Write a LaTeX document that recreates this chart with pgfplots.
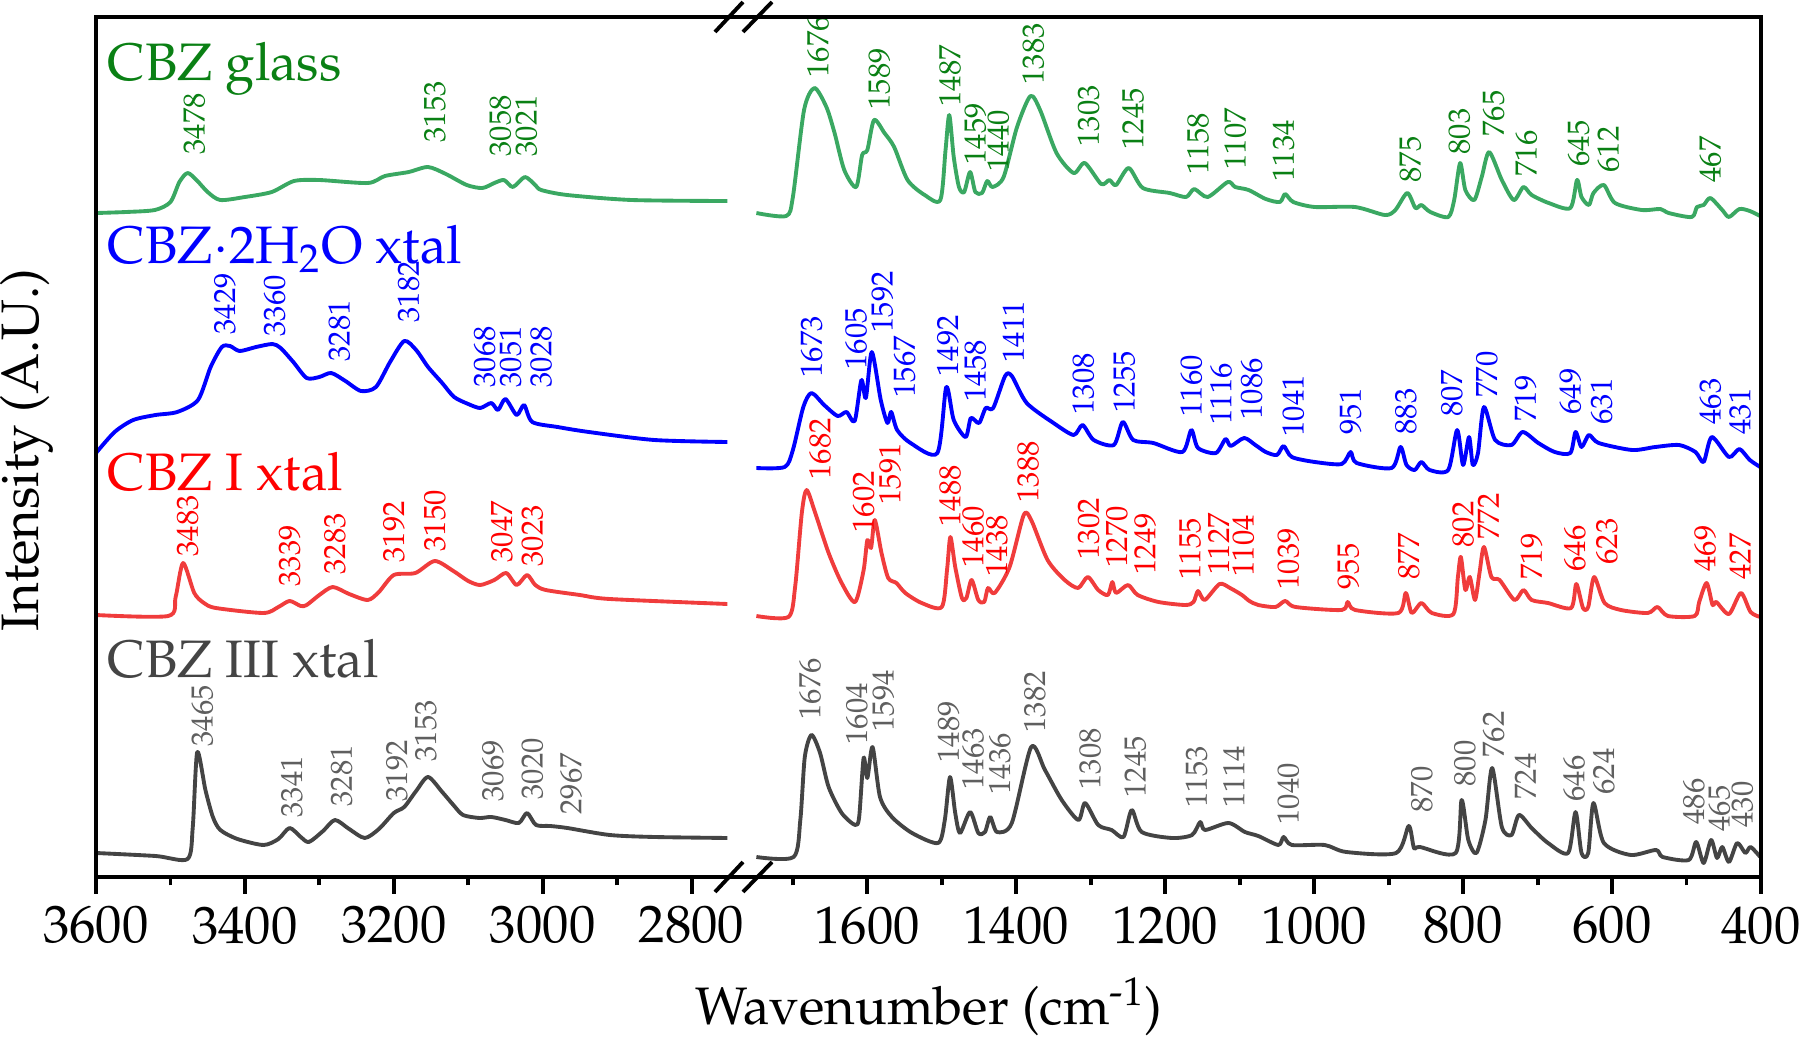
\documentclass[border=0pt]{standalone}
\usepackage[T1]{fontenc}
\usepackage{mathpazo}
\usepackage{pgfplots}
\pgfplotsset{compat=1.18}
\definecolor{gline}{RGB}{58,168,98}
\definecolor{gtext}{RGB}{10,128,20}
\definecolor{bline}{RGB}{0,0,255}
\definecolor{rline}{RGB}{240,60,60}
\definecolor{rtext}{RGB}{255,0,0}
\definecolor{kline}{RGB}{68,68,68}
\definecolor{ktext}{RGB}{95,95,95}
\tikzset{
  pk/.style={rotate=90, anchor=west, inner sep=0pt, font=\fontsize{8.7}{9}\selectfont},
  ttl/.style={anchor=base west, inner sep=0pt, font=\fontsize{15}{18}\selectfont},
}
\begin{document}
\begin{tikzpicture}
\pgfplotsset{
  spec/.style={
    scale only axis, height=86mm, ymin=0, ymax=860, x dir=reverse,
    clip=false, axis line style={draw=none}, ytick=\empty,
    tick align=outside, xtick pos=left,
    major tick length=1.7mm, minor tick length=0.85mm,
    tick style={black, line width=1.1pt},
    xticklabel style={font=\fontsize{15}{18}\selectfont},
    /pgf/number format/1000 sep={},
    every axis plot/.append style={line width=1.1pt, smooth, tension=0.45, line join=round},
  },
}
\newcommand{\pk}[4]{\node[pk,text=#1] at (axis cs:#2,#3) {#4};}
\path[use as bounding box] (-9.6mm,-16.2mm) rectangle (170.4mm,87.7mm);
% ---------------- left panel ----------------
\begin{axis}[spec, width=64.7mm, xmin=2731, xmax=3600,
  xtick={2800,3000,...,3600}, minor xtick={2900,3100,...,3500}]
\addplot[gline] coordinates {
(3600,664) (3560,665) (3521,667) (3500,675) (3488,695) (3477,704) (3465,697) (3450,685) (3433,677)
(3400,680) (3364,685) (3334,696) (3300,697) (3235,694) (3212,701) (3180,705) (3154,710)
(3130,703) (3102,692) (3081,689) (3065,694) (3052,697) (3040,690) (3024,700) (3010,692)
(3002,687) (2967,682) (2880,677) (2752,676)};
\addplot[bline] coordinates {
(3600,424) (3575,445) (3550,457) (3520,462) (3491,465) (3463,477) (3446,510) (3431,530)
(3420,531) (3407,526) (3385,530) (3363,533) (3352,529) (3335,515) (3317,499) (3300,500)
(3284,504) (3265,496) (3244,486) (3224,490) (3205,515) (3186,536) (3170,527) (3154,510)
(3135,494) (3119,480) (3100,473) (3084,469) (3069,474) (3060,467) (3050,478) (3035,462)
(3025,472) (3014,455) (2980,450) (2938,445) (2850,437) (2752,435)};
\addplot[rline] coordinates {
(3600,262) (3503,261) (3493,280) (3483,314) (3468,284) (3455,274) (3439,269) (3375,264)
(3355,270) (3340,276) (3325,271) (3317,272) (3300,282) (3282,290) (3260,283) (3235,277)
(3220,285) (3200,302) (3171,304) (3145,316) (3120,306) (3100,296) (3084,292) (3065,297)
(3049,304) (3035,292) (3021,302) (3010,292) (2996,287) (2950,282) (2910,278) (2752,273)};
\addplot[kline] coordinates {
(3600,24) (3520,21) (3477,18) (3470,50) (3464,125) (3453,87) (3443,60) (3433,47) (3410,38)
(3375,32) (3355,38) (3340,49) (3325,40) (3314,35) (3295,46) (3279,57) (3260,48) (3239,39)
(3220,48) (3200,64) (3186,70) (3170,86) (3154,100) (3135,85) (3120,72) (3107,62) (3085,59)
(3069,60) (3050,57) (3032,54) (3021,64) (3009,52) (2990,51) (2967,49) (2910,42) (2850,40)
(2752,39)};
\node[ttl,text=gtext] at (axis cs:3585,797) {CBZ glass};
\node[ttl,text=bline] at (axis cs:3585,614) {CBZ$\cdot$2H\textsubscript{2}O xtal};
\node[ttl,text=rtext] at (axis cs:3585,387) {CBZ I xtal};
\node[ttl,text=kline] at (axis cs:3585,200) {CBZ III xtal};
\pk{gtext}{3468}{722}{3478}\pk{gtext}{3145}{734}{3153}\pk{gtext}{3057}{720}{3058}\pk{gtext}{3022}{720}{3021}
\pk{bline}{3427}{542}{3429}\pk{bline}{3360}{540}{3360}\pk{bline}{3273}{515}{3281}\pk{bline}{3180}{554}{3182}
\pk{bline}{3078}{489}{3068}\pk{bline}{3043}{489}{3051}\pk{bline}{3002}{489}{3028}
\pk{rtext}{3477}{320}{3483}\pk{rtext}{3340}{290}{3339}\pk{rtext}{3279}{302}{3283}\pk{rtext}{3200}{314}{3192}
\pk{rtext}{3145}{325}{3150}\pk{rtext}{3055}{314}{3047}\pk{rtext}{3014}{310}{3023}
\pk{ktext}{3457}{130}{3465}\pk{ktext}{3337}{59}{3341}\pk{ktext}{3270}{70}{3281}\pk{ktext}{3196}{75}{3192}
\pk{ktext}{3157}{115}{3153}\pk{ktext}{3067}{75}{3069}\pk{ktext}{3014}{77}{3020}\pk{ktext}{2962}{62}{2967}
\end{axis}
% ---------------- right panel ----------------
\begin{axis}[spec, at={(64.7mm,0)}, width=101.8mm, xmin=400, xmax=1767,
  xtick={400,600,...,1600}, minor xtick={500,700,...,1700}]
\addplot[gline] coordinates {
(1749,664) (1709,661) (1700,680) (1685,767) (1671,789) (1655,770) (1644,744) (1631,707)
(1615,690) (1607,722) (1600,727) (1591,757) (1577,744) (1564,730) (1546,697) (1523,682)
(1502,677) (1495,727) (1490,762) (1484,720) (1477,690) (1470,685) (1462,705) (1455,685)
(1446,684) (1439,696) (1432,690) (1417,700) (1399,750) (1381,781) (1368,767) (1346,724)
(1323,704) (1308,714) (1286,693) (1275,697) (1266,692) (1249,709) (1230,689) (1194,684)
(1172,680) (1161,688) (1143,680) (1116,695) (1106,690) (1088,687) (1065,678) (1046,675)
(1039,683) (1028,675) (999,670) (945,670) (905,662) (891,667) (875,684) (864,669) (856,672)
(844,665) (820,660) (812,677) (804,714) (797,687) (785,677) (775,700) (765,725) (748,697)
(732,677) (719,690) (708,682) (685,674) (656,669) (647,697) (641,680) (631,672) (625,684)
(611,692) (596,674) (560,667) (535,668) (524,664) (493,660) (486,670) (477,672) (468,679)
(452,667) (443,660) (429,668) (415,666) (401,661)};
\addplot[bline] coordinates {
(1749,409) (1711,410) (1700,427) (1686,470) (1675,484) (1658,472) (1640,461) (1628,465)
(1617,456) (1608,497) (1602,479) (1594,525) (1582,477) (1573,454) (1568,465) (1560,447)
(1542,434) (1506,424) (1494,490) (1484,457) (1468,440) (1461,459) (1450,454) (1441,469)
(1431,469) (1415,501) (1406,501) (1386,474) (1350,454) (1323,442) (1311,452) (1296,437)
(1269,432) (1257,455) (1243,437) (1216,434) (1177,425) (1165,447) (1156,429) (1132,424)
(1119,438) (1112,431) (1094,439) (1079,432) (1065,425) (1050,422) (1041,431) (1030,420)
(999,415) (963,413) (951,425) (943,414) (896,409) (884,430) (876,412) (865,407) (856,415)
(845,407) (820,407) (808,447) (800,412) (792,440) (787,412) (780,424) (772,470) (757,437)
(735,432) (720,445) (699,434) (677,425) (656,424) (649,445) (641,430) (631,442) (618,434)
(573,427) (542,430) (510,432) (488,425) (477,415) (466,440) (443,420) (429,428) (415,417)
(401,410)};
\addplot[rline] coordinates {
(1749,261) (1706,260) (1697,290) (1688,364) (1681.5,387) (1670,364) (1652,324) (1634.5,294)
(1616.5,275) (1605,307) (1600,337) (1595,329) (1590,357) (1581,324) (1572,299) (1561,294)
(1549,284) (1527,274) (1500,270) (1493,307) (1488.5,340) (1482,310) (1473,279) (1467,279)
(1460,297) (1451,277) (1443,275) (1438,289) (1429,284) (1409,310) (1390,362) (1380,357)
(1358,317) (1335,297) (1317,289) (1304,300) (1290,287) (1277,282) (1271,295) (1266,284)
(1250,292) (1237,282) (1209,275) (1173,272) (1162,275) (1156,286) (1147,277) (1127,293)
(1113,289) (1097,282) (1087,276) (1075,272) (1052,270) (1039,276) (1025,270) (963,267)
(955,275) (945,267) (887,264) (877,284) (869,264) (856,274) (842,264) (813,263) (807,300)
(803,320) (797,287) (791,300) (784,277) (778,304) (772,330) (762,300) (751,297) (731,277)
(719,287) (708,277) (686,274) (655,269) (648,293) (639,269) (632,270) (624,300) (610,274)
(588,267) (552,264) (539,270) (525,261) (489,261) (483,275) (473,294) (465,272) (460,275)
(443,263) (427,284) (414,265) (401,260)};
\addplot[kline] coordinates {
(1749,20) (1699,20) (1690,57) (1684,120) (1675,142) (1663.5,124) (1652,90) (1634.5,64)
(1616.5,52) (1611,60) (1605,119) (1600,99) (1593,130) (1583,80) (1567,60) (1540,44)
(1505,34) (1496,57) (1489,100) (1482,64) (1475.5,44) (1462,65) (1451,44) (1442,45)
(1435,60) (1426,45) (1406,54) (1380,130) (1361.5,107) (1339,77) (1316.6,57) (1307.6,74)
(1290,52) (1272,47) (1256,40) (1245,67) (1231.6,45) (1191,39) (1164,42) (1153,55)
(1146.5,47) (1115,54) (1093,45) (1075,41) (1048,32) (1041,40) (1030,32) (986,32) (957,25)
(890,24) (873,51) (866,29) (858,30) (810,24) (802,77) (793,37) (782,24) (770,57) (761,109)
(748,50) (735,42) (725,62) (708,49) (686,34) (659,24) (649,65) (641,24) (632,24) (625,74)
(611,34) (575,22) (541,27) (532,20) (497,17) (487,35) (477,14) (467,37) (459,19) (452,30)
(443,15) (432,34) (421,24) (414,30) (401,20)};
\pk{gtext}{1666}{799}{1676}\pk{gtext}{1584}{767}{1589}\pk{gtext}{1489}{770}{1487}\pk{gtext}{1455}{712}{1459}
\pk{gtext}{1424}{705}{1440}\pk{gtext}{1377}{792}{1383}\pk{gtext}{1303}{730}{1303}\pk{gtext}{1243}{727}{1245}
\pk{gtext}{1156}{702}{1158}\pk{gtext}{1106}{707}{1107}\pk{gtext}{1041}{695}{1134}\pk{gtext}{871}{694}{875}
\pk{gtext}{805}{722}{803}\pk{gtext}{759}{740}{765}\pk{gtext}{715}{700}{716}\pk{gtext}{645}{710}{645}
\pk{gtext}{605}{704}{612}\pk{gtext}{468}{694}{467}
\pk{bline}{1675}{499}{1673}\pk{bline}{1615}{507}{1605}\pk{bline}{1580}{544}{1592}\pk{bline}{1550}{479}{1567}
\pk{bline}{1492}{500}{1492}\pk{bline}{1455}{475}{1458}\pk{bline}{1404}{514}{1411}\pk{bline}{1310}{462}{1308}
\pk{bline}{1255}{464}{1255}\pk{bline}{1165}{460}{1160}\pk{bline}{1125}{452}{1116}\pk{bline}{1084}{457}{1086}
\pk{bline}{1028}{440}{1041}\pk{bline}{951}{442}{951}\pk{bline}{877}{442}{883}\pk{bline}{815}{460}{807}
\pk{bline}{768}{479}{770}\pk{bline}{716}{455}{719}\pk{bline}{656}{462}{649}\pk{bline}{614}{452}{631}
\pk{bline}{468}{452}{463}\pk{bline}{428}{442}{431}
\pk{rtext}{1663.5}{397}{1682}\pk{rtext}{1605}{344}{1602}\pk{rtext}{1569.5}{372}{1591}\pk{rtext}{1489}{350}{1488}
\pk{rtext}{1458}{309}{1460}\pk{rtext}{1426}{300}{1438}\pk{rtext}{1384}{374}{1388}\pk{rtext}{1303}{317}{1302}
\pk{rtext}{1265}{309}{1270}\pk{rtext}{1227}{302}{1249}\pk{rtext}{1166.5}{297}{1155}\pk{rtext}{1128.5}{302}{1127}
\pk{rtext}{1095}{300}{1104}\pk{rtext}{1034.5}{287}{1039}\pk{rtext}{954}{287}{955}\pk{rtext}{873}{297}{877}
\pk{rtext}{800}{329}{802}\pk{rtext}{766}{337}{772}\pk{rtext}{708}{297}{719}\pk{rtext}{650}{305}{646}
\pk{rtext}{607}{312}{623}\pk{rtext}{475}{305}{469}\pk{rtext}{428}{297}{427}
\pk{ktext}{1677}{157}{1676}\pk{ktext}{1614}{132}{1604}\pk{ktext}{1578.5}{145}{1594}\pk{ktext}{1491}{114}{1489}
\pk{ktext}{1458}{87}{1463}\pk{ktext}{1422}{82}{1436}\pk{ktext}{1375}{144}{1382}\pk{ktext}{1301}{87}{1308}
\pk{ktext}{1240}{79}{1245}\pk{ktext}{1157.7}{69}{1153}\pk{ktext}{1108}{69}{1114}\pk{ktext}{1034.5}{52}{1040}
\pk{ktext}{855.5}{64}{870}\pk{ktext}{797.6}{90}{800}\pk{ktext}{759}{119}{762}\pk{ktext}{716.6}{77}{724}
\pk{ktext}{651}{75}{646}\pk{ktext}{611}{82}{624}\pk{ktext}{490}{52}{486}\pk{ktext}{456}{45}{465}
\pk{ktext}{425}{49}{430}
\end{axis}
% frame and break marks
\draw[line width=1.15pt] (0,0) rectangle (166.5mm,86mm);
\draw[line width=1.1pt] (61.9mm,-1.5mm) -- (64.7mm,1.5mm) (64.7mm,-1.5mm) -- (67.6mm,1.5mm);
\draw[line width=1.1pt] (61.9mm,84.5mm) -- (64.7mm,87.5mm) (64.7mm,84.5mm) -- (67.6mm,87.5mm);
\node[anchor=base, font=\fontsize{15}{18}\selectfont, inner sep=0pt] at (83.3mm,-14.8mm) {Wavenumber (cm\textsuperscript{-1})};
\node[rotate=90, font=\fontsize{15}{18}\selectfont, inner sep=0pt] at (-6.9mm,42.7mm) {Intensity (A.U.)};
\end{tikzpicture}
\end{document}
